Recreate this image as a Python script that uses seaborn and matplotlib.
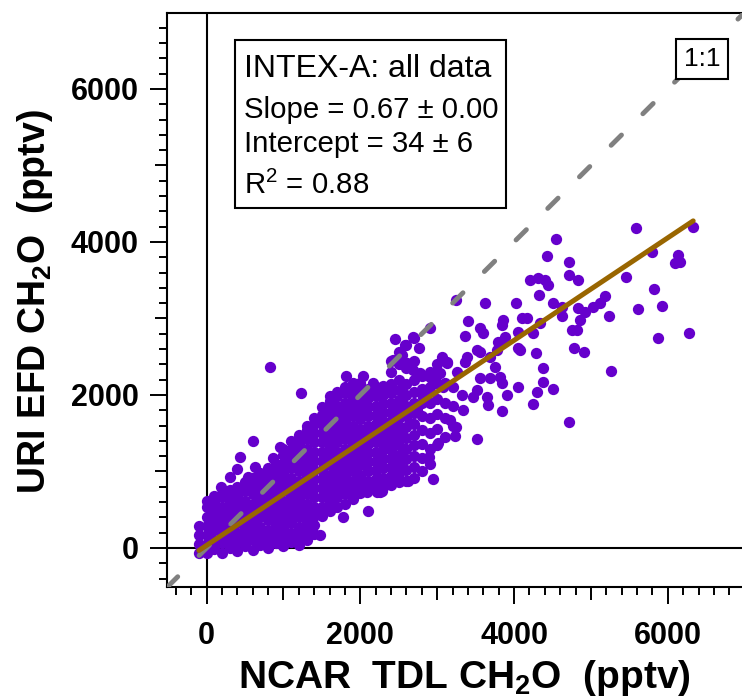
import matplotlib
matplotlib.use("Agg")
import matplotlib.pyplot as plt
import seaborn as sns
from matplotlib.patches import Rectangle
from matplotlib.ticker import FixedLocator

sns.set_style("ticks")
plt.rcParams["font.family"] = ["Liberation Sans", "DejaVu Sans"]
plt.rcParams["mathtext.fontset"] = "custom"
plt.rcParams["mathtext.rm"] = "Liberation Sans"
plt.rcParams["mathtext.bf"] = "Liberation Sans:bold"
plt.rcParams["mathtext.default"] = "regular"
for key in ["text.color", "axes.labelcolor", "xtick.color", "ytick.color", "axes.edgecolor"]:
    plt.rcParams[key] = "black"

# dense part of the cloud (NCAR TDL, URI EFD), pptv, read column by column
core_pts = [
    (-100, -60), (-100, 50), (-100, 170), (-100, 290),
    (0, -70), (0, 50), (0, 170), (0, 290), (0, 410), (0, 530), (0, 620),
    (100, -10), (100, 110), (100, 230), (100, 350), (100, 470), (100, 590), (100, 680),
    (200, -60), (200, 60), (200, 180), (200, 300), (200, 420), (200, 540), (200, 660), (200, 700),
    (300, 0), (300, 120), (300, 240), (300, 360), (300, 480), (300, 600), (300, 720), (300, 760),
    (400, -40), (400, 80), (400, 200), (400, 320), (400, 440), (400, 560), (400, 680), (400, 800),
    (500, 20), (500, 140), (500, 260), (500, 380), (500, 500), (500, 620), (500, 740), (500, 860),
    (600, -20), (600, 100), (600, 220), (600, 340), (600, 460), (600, 580), (600, 700), (600, 820), (600, 920),
    (700, 40), (700, 160), (700, 280), (700, 400), (700, 520), (700, 640), (700, 760), (700, 880), (700, 980),
    (800, 0), (800, 120), (800, 240), (800, 360), (800, 480), (800, 600), (800, 720), (800, 840), (800, 960), (800, 1040),
    (900, 60), (900, 180), (900, 300), (900, 420), (900, 540), (900, 660), (900, 780), (900, 900), (900, 1020), (900, 1100),
    (1000, 20), (1000, 140), (1000, 260), (1000, 380), (1000, 500), (1000, 620), (1000, 740), (1000, 860),
    (1000, 980), (1000, 1100), (1000, 1220), (1000, 1300),
    (1100, 80), (1100, 200), (1100, 320), (1100, 440), (1100, 560), (1100, 680), (1100, 800), (1100, 920),
    (1100, 1040), (1100, 1160), (1100, 1280), (1100, 1400),
    (1200, 40), (1200, 160), (1200, 280), (1200, 400), (1200, 520), (1200, 640), (1200, 760), (1200, 880),
    (1200, 1000), (1200, 1120), (1200, 1240), (1200, 1360), (1200, 1480),
    (1300, 100), (1300, 220), (1300, 340), (1300, 460), (1300, 580), (1300, 700), (1300, 820), (1300, 940),
    (1300, 1060), (1300, 1180), (1300, 1300), (1300, 1420), (1300, 1540), (1300, 1600),
    (1400, 180), (1400, 300), (1400, 420), (1400, 540), (1400, 660), (1400, 780), (1400, 900), (1400, 1020),
    (1400, 1140), (1400, 1260), (1400, 1380), (1400, 1500), (1400, 1620), (1400, 1700),
    (1500, 420), (1500, 540), (1500, 660), (1500, 780), (1500, 900), (1500, 1020), (1500, 1140), (1500, 1260),
    (1500, 1380), (1500, 1500), (1500, 1620), (1500, 1740), (1500, 1840),
    (1600, 480), (1600, 600), (1600, 720), (1600, 840), (1600, 960), (1600, 1080), (1600, 1200), (1600, 1320),
    (1600, 1440), (1600, 1560), (1600, 1680), (1600, 1800), (1600, 1920), (1600, 1980),
    (1700, 540), (1700, 660), (1700, 780), (1700, 900), (1700, 1020), (1700, 1140), (1700, 1260), (1700, 1380),
    (1700, 1500), (1700, 1620), (1700, 1740), (1700, 1860), (1700, 1980), (1700, 2040),
    (1800, 580), (1800, 700), (1800, 820), (1800, 940), (1800, 1060), (1800, 1180), (1800, 1300), (1800, 1420),
    (1800, 1540), (1800, 1660), (1800, 1780), (1800, 1900), (1800, 2020), (1800, 2100),
    (1900, 640), (1900, 760), (1900, 880), (1900, 1000), (1900, 1120), (1900, 1240), (1900, 1360), (1900, 1480),
    (1900, 1600), (1900, 1720), (1900, 1840), (1900, 1960), (1900, 2080), (1900, 2150),
    (2000, 720), (2000, 840), (2000, 960), (2000, 1080), (2000, 1200), (2000, 1320), (2000, 1440), (2000, 1560),
    (2000, 1680), (2000, 1800), (2000, 1920), (2000, 2040), (2000, 2160),
    (2100, 760), (2100, 880), (2100, 1000), (2100, 1120), (2100, 1240), (2100, 1360), (2100, 1480), (2100, 1600),
    (2100, 1720), (2100, 1840), (2100, 1960), (2100, 2080),
    (2200, 780), (2200, 900), (2200, 1020), (2200, 1140), (2200, 1260), (2200, 1380), (2200, 1500), (2200, 1620),
    (2200, 1740), (2200, 1860), (2200, 1980), (2200, 2100),
    (2300, 800), (2300, 920), (2300, 1040), (2300, 1160), (2300, 1280), (2300, 1400), (2300, 1520), (2300, 1640),
    (2300, 1760), (2300, 1880), (2300, 2000), (2300, 2120),
    (2400, 820), (2400, 940), (2400, 1060), (2400, 1180), (2400, 1300), (2400, 1420), (2400, 1540), (2400, 1660),
    (2400, 1780), (2400, 1900), (2400, 2020), (2400, 2140), (2400, 2300), (2400, 2450),
    (2500, 860), (2500, 980), (2500, 1100), (2500, 1220), (2500, 1340), (2500, 1460), (2500, 1580), (2500, 1700),
    (2500, 1820), (2500, 1940), (2500, 2060), (2500, 2200), (2500, 2400), (2500, 2560),
    (2600, 880), (2600, 1020), (2600, 1160), (2600, 1300), (2600, 1440), (2600, 1580), (2600, 1720), (2600, 1860),
    (2600, 2000), (2600, 2140), (2600, 2350), (2600, 2650),
    (2700, 920), (2700, 1060), (2700, 1200), (2700, 1340), (2700, 1480), (2700, 1620), (2700, 1760), (2700, 1900),
    (2700, 2040), (2700, 2200), (2700, 2450), (2700, 2740),
    (2800, 1000), (2800, 1180), (2800, 1360), (2800, 1540), (2800, 1720), (2800, 1900), (2800, 2080), (2800, 2250),
    (2900, 1100), (2900, 1300), (2900, 1500), (2900, 1700), (2900, 1900), (2900, 2100), (2900, 2300),
    (3000, 1350), (3000, 1550), (3000, 1750), (3000, 1950), (3000, 2150), (3000, 2400),
    (3100, 1450), (3100, 1700), (3100, 1900), (3100, 2150),
    (3200, 1600), (3200, 1850), (3200, 2100),
]

# scattered points around and beyond the dense part
spread_pts = [
    (5584, 4178), (6325, 4192), (5792, 3873), (6138, 3830), (6160, 3742), (6095, 3721),
    (4551, 4034), (4434, 3816), (4716, 3742), (4720, 3568), (4837, 3503), (5458, 3546),
    (5822, 3385), (5926, 3163), (5618, 3124), (5241, 3032), (5870, 2749), (6277, 2814),
    (5263, 2309), (4720, 1647),
    (4209, 3503), (4317, 3525), (4404, 3503), (4447, 3437), (4330, 3307), (4512, 3198),
    (4621, 3154), (4621, 3032), (4837, 3133), (4924, 3089), (5025, 3154), (5120, 3206),
    (5185, 3294), (4859, 2980), (4751, 2849), (4816, 2849), (4781, 2610), (4915, 2558),
    (4283, 2545), (4382, 2353), (4382, 2166), (4512, 2078), (4296, 2035), (4252, 1878),
    (4027, 3198), (3623, 3198), (3406, 2967), (3246, 3241),
    (4101, 3002), (4166, 3002), (4339, 2937), (4252, 2814), (4057, 2827),
    (3862, 2980), (3840, 2915), (3884, 2762), (3797, 2697), (3558, 2871), (3601, 2806), (3363, 2771),
    (4057, 2610), (4079, 2588),
    (2908, 2871), (2452, 2728), (2582, 2653), (2691, 2762), (2769, 2610),
    (3515, 2588), (3558, 2566), (3385, 2500), (3363, 2435), (3688, 2500), (3775, 2588), (3819, 2675),
    (3753, 2370), (3688, 2217), (3818, 2239), (3841, 2153), (3906, 2000), (4057, 2108),
    (3841, 1795), (3666, 1869), (3645, 1977), (3515, 2065), (3558, 2218), (3471, 1977),
    (3320, 2000), (3341, 1804), (3255, 2304), (3060, 2500), (3125, 2435), (3515, 1421),
    (3016, 1368), (3246, 1585), (3233, 1464), (2899, 1185),
    (2951, 902), (2625, 880), (2452, 967), (2279, 749), (2322, 889),
    (826, 2362), (1229, 2030), (601, 1398), (436, 1185), (393, 1029), (306, 932), (185, 801),
    (1811, 2248), (2032, 2248), (2170, 2153),
    (2105, 484), (1780, 401), (1477, 170), (1455, 474),
    (2084, 736), (2214, 736), (2257, 736),
    (956, 1324), (869, 1172), (631, 1063), (544, 932), (501, 846),
    (2430, 2457), (2540, 2522), (2605, 2413), (2691, 2326), (2778, 2283), (2908, 2239),
    (3016, 2283), (2951, 2153), (3081, 2108), (2821, 1977), (2735, 1804), (2647, 1630),
    (2517, 1499), (2387, 1368),
    (2865, 2065), (3038, 2283), (3125, 2413), (3168, 1673),
]

ncar = [p[0] for p in core_pts + spread_pts]
uri = [p[1] for p in core_pts + spread_pts]

slope = 0.67
intercept = 34
fit_x = [-100, 6330]
fit_y = [slope * v + intercept for v in fit_x]

fit_lines = ["INTEX-A: all data", "Slope = 0.67 \u00b1 0.00", "Intercept = 34 \u00b1 6", "R$^2$ = 0.88"]

xmajor = [0, 1000, 2000, 3000, 4000, 5000, 6000]
xlabels = ["0", "", "2000", "", "4000", "", "6000"]
ymajor = [0, 1000, 2000, 3000, 4000, 5000, 6000]
ylabels = ["0", "", "2000", "", "4000", "", "6000"]

fig = plt.figure(figsize=(7.42, 6.97), dpi=100)
ax = fig.add_axes([167 / 742, 1 - 587 / 697, 575 / 742, 574 / 697])

ax.axhline(0, color="black", lw=1.5, zorder=1)
ax.axvline(0, color="black", lw=1.5, zorder=1)

sns.scatterplot(x=ncar, y=uri, color="#6600CC", s=66, linewidth=0, ax=ax, zorder=2)
ax.axline((0, 0), slope=1, color="#808080", lw=3.5, linestyle=(0, (3.0, 6.2)),
          dash_capstyle="round", zorder=3)
sns.lineplot(x=fit_x, y=fit_y, color="#996600", lw=3.6, ax=ax, zorder=4)

ax.set_xlim(-515, 6965)
ax.set_ylim(-510, 6992)

# stats box
ax.add_patch(Rectangle((0.1183, 0.6608), 0.4713, 0.2922, transform=ax.transAxes,
                       fc="white", ec="black", lw=1.5, zorder=5))
ybase = [0.889, 0.8165, 0.7584, 0.684]
sizes = [23, 21.2, 21.2, 21.2]
for txt, yb, fs in zip(fit_lines, ybase, sizes):
    ax.text(0.134, yb, txt, transform=ax.transAxes, fontsize=fs, va="baseline", zorder=6)

ax.text(0.9307, 0.9199, "1:1", transform=ax.transAxes, fontsize=19, ha="center", va="center",
        bbox=dict(boxstyle="square,pad=0.3", fc="white", ec="black", lw=1.5), zorder=6)

ax.set_xticks(xmajor)
ax.set_xticklabels(xlabels)
ax.set_yticks(ymajor)
ax.set_yticklabels(ylabels)
ax.xaxis.set_minor_locator(FixedLocator(list(range(-400, 7000, 200))))
ax.yaxis.set_minor_locator(FixedLocator(list(range(-400, 7000, 200))))
ax.tick_params(which="major", direction="out", length=12.5, width=1.4, labelsize=22, color="black",
               labelcolor="black")
ax.tick_params(which="minor", direction="out", length=6, width=1.4, color="black")
ax.tick_params(axis="x", which="major", pad=12)
ax.tick_params(axis="y", which="major", pad=8)
ax.tick_params(top=False, right=False, which="both")
for lab in ax.get_xticklabels() + ax.get_yticklabels():
    lab.set_fontweight("bold")

for sp in ["left", "bottom", "top"]:
    ax.spines[sp].set_linewidth(1.5)
    ax.spines[sp].set_color("black")
ax.spines["right"].set_visible(False)

ax.set_xlabel(r"NCAR  TDL CH$_2$O  (pptv)", fontsize=28, fontweight="bold", color="black")
ax.xaxis.set_label_coords(0.5165, -0.176)
ax.xaxis.label.set_va("baseline")
ax.set_ylabel(r"URI EFD CH$_2$O  (pptv)", fontsize=27, fontweight="bold", color="black")
ax.yaxis.set_label_coords(-0.195, 0.497)

for t, v in zip(ax.xaxis.get_major_ticks(), xmajor):
    if v % 2000:
        t.tick1line.set_markersize(9)
for t, v in zip(ax.yaxis.get_major_ticks(), ymajor):
    if v % 2000:
        t.tick1line.set_markersize(9)

fig.savefig("out.png", dpi=100)
